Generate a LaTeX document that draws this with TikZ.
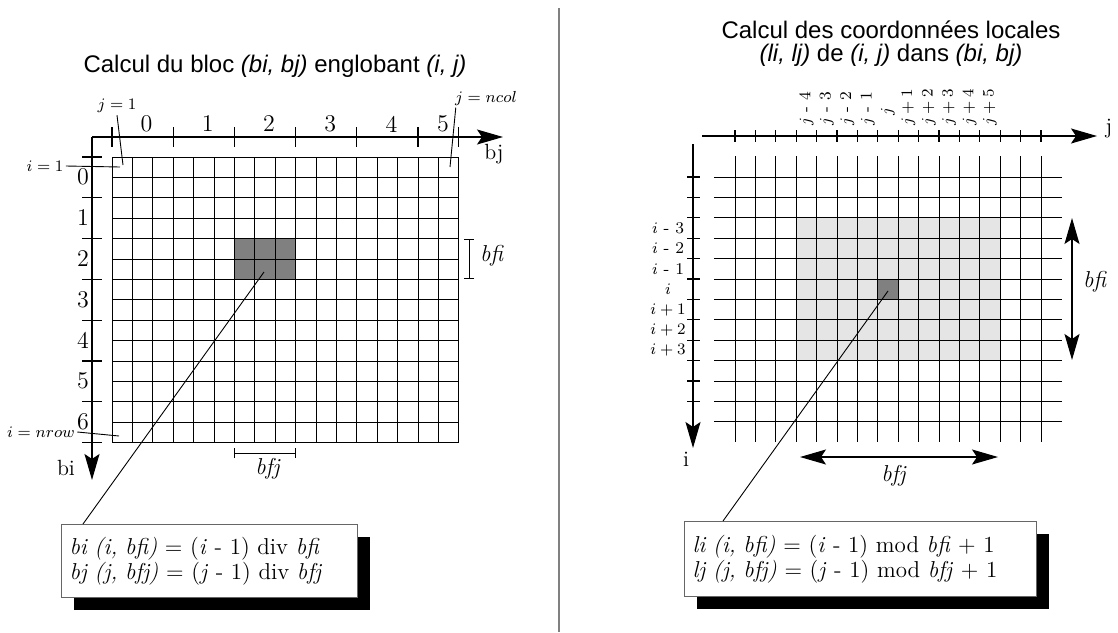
\documentclass[tikz,border=0pt]{standalone}
\usepackage{fontspec}
\newfontfamily\titlefont{Liberation Sans}
\usetikzlibrary{arrows.meta,shadows}

\begin{document}
\begin{tikzpicture}[x=0.5pt, y=-0.5pt, >={Stealth[length=13pt,width=7.5pt,inset=2.5pt]},
	every node/.style={font=\fontsize{12}{14}\selectfont, inner sep=1pt},
	gridline/.style={line width=0.45pt, black},
	axis/.style={line width=0.6pt},
	tick/.style={line width=0.6pt},
	bracket/.style={line width=0.5pt, {Bar[width=5pt]}-{Bar[width=5pt]}},
	leader/.style={line width=0.45pt},
	title/.style={font=\titlefont\fontsize{12}{11.5}\selectfont, align=center},
	axlabel/.style={font=\fontsize{11}{13}\selectfont},
	small/.style={font=\fontsize{8.2}{9.5}\selectfont},
	formula/.style={draw=black!60, fill=white, line width=0.5pt, anchor=north west, align=left,
		inner xsep=4pt, font=\fontsize{11.5}{12.5}\selectfont,
		drop shadow={shadow xshift=6pt, shadow yshift=-6pt, fill=black, opacity=1}}]
	\useasboundingbox (0,0) rectangle (1118,632);
	\draw[black!50, line width=0.8pt] (559,8) -- (559,632);
	\node[title] (titleL) at (275,66) {Calcul du bloc \textit{(bi, bj)} englobant \textit{(i, j)}};
	\node[title] (titleR) at (891,44) {Calcul des coordonnées locales\\ \textit{(li, lj)} de \textit{(i, j)} dans \textit{(bi, bj)}};

	% bloc englobant
	\fill[black!50] (234.4,238.6) rectangle (295.6,279.4);
	\foreach \k in {0,...,17} \draw[gridline] ({112+20.4*\k},157) -- ({112+20.4*\k},442.6);
	\foreach \k in {0,...,14} \draw[gridline] (112,{157+20.4*\k}) -- (458.8,{157+20.4*\k});
	\coordinate (oL) at (92,137);
	\draw[axis,->] (oL) -- (503,137);
	\draw[axis,->] (oL) -- (92,480);
	\node[axlabel] (bjL) at (494,154) {bj};
	\node[axlabel] (biL) at (66,468) {bi};
	\foreach \x in {112,173.2,234.4,295.6,356.8,418,458.8} \draw[tick] (\x,127) -- (\x,147);
	\foreach \n in {0,...,4} \node (colL\n) at ({146.6+61.2*\n},124) {\n};
	\node (colL5) at (443,124) {5};
	\foreach \k in {0,...,7} \draw[tick] (82,{157+40.8*\k}) -- (102,{157+40.8*\k});
	\foreach \n in {0,...,6} \node (rowL\n) at (83,{177+40.8*\n}) {\n};
	\node[small] (jone) at (117,106) {$j = 1$};
	\coordinate (joneEnd) at (123,165);
	\draw[leader] (jone.south) -- (joneEnd);
	\node[small] (ione) at (45,166) {$i = 1$};
	\coordinate (ioneEnd) at (120,167);
	\draw[leader] (ione.east) -- (ioneEnd);
	\node[small] (jncol) at (486,98) {$j = ncol$};
	\coordinate (jncolEnd) at (450,167);
	\draw[leader] ([xshift=1.5pt]jncol.south west) -- (jncolEnd);
	\node[small] (inrow) at (41,432) {$i = nrow$};
	\coordinate (inrowEnd) at (119,436);
	\draw[leader] (inrow.east) -- (inrowEnd);
	\draw[bracket] (234.4,453) -- (295.6,453);
	\node[font=\fontsize{11.5}{13}\selectfont] (bfjL) at (268,469) {\textit{bfj}};
	\draw[bracket] (469,238.6) -- (469,279.4);
	\node[font=\fontsize{11.5}{13}\selectfont] (bfiL) at (492,256) {\textit{bfi}};
	\node[formula, text width=140pt, minimum height=36.5pt] (formL) at (61,524)
		{\textit{bi (i, bfi)} = (\textit{i} - 1) div \textit{bfi}\\ \textit{bj (j, bfj)} = (\textit{j} - 1) div \textit{bfj}};
	\coordinate (blkL) at (264,272);
	\draw[leader] (blkL) -- ([xshift=11pt]formL.north west);

	% coordonnees locales
	\fill[black!10] (796.2,217.8) rectangle (1000.2,360.6);
	\fill[black!50] (877.8,279) rectangle (898.2,299.4);
	\foreach \k in {0,...,15} \draw[gridline] ({735+20.4*\k},156) -- ({735+20.4*\k},442);
	\foreach \k in {0,...,12} \draw[gridline] (714,{177+20.4*\k}) -- (1062,{177+20.4*\k});
	\draw[axis,->] (702,136) -- (1097,136);
	\draw[axis,->] (693,144) -- (693,448);
	\node[axlabel] (jR) at (1109,129) {j};
	\node[axlabel] (iR) at (686,459) {i};
	\foreach \k in {0,...,15} \draw[tick] ({735+20.4*\k},130) -- ({735+20.4*\k},142);
	\foreach \k in {0,...,11} \draw[tick] (687,{177+20.4*\k}) -- (700,{177+20.4*\k});
	\foreach \lab [count=\n from 2] in {{$i$ - 3},{$i$ - 2},{$i$ - 1},{$i$},{$i + 1$},{$i + 2$},{$i + 3$}}
		\node[small] (rowR\n) at (668,{177+20.4*(\n+0.5)}) {\lab};
	\foreach \lab/\yy [count=\n from 3] in {{$j$ - 4}/128,{$j$ - 3}/128,{$j$ - 2}/128,{$j$ - 1}/128,{$j$}/118,
		{$j + 1$}/128,{$j + 2$}/128,{$j + 3$}/128,{$j + 4$}/128,{$j + 5$}/128}
		\node[small, rotate=90, anchor=west] (colR\n) at ({735+20.4*(\n+0.5)},\yy) {\lab};
	\coordinate (bfiTop) at (1072,218);
	\coordinate (bfiBot) at (1072,360);
	\draw[axis,<->] (bfiTop) -- (bfiBot);
	\node[font=\fontsize{11.5}{13}\selectfont] (bfiR) at (1095,282) {\textit{bfi}};
	\coordinate (bfjLeft) at (800,457);
	\coordinate (bfjRight) at (998,457);
	\draw[axis,<->] (bfjLeft) -- (bfjRight);
	\node[font=\fontsize{11.5}{13}\selectfont] (bfjR) at (894,476) {\textit{bfj}};
	\node[formula, text width=168pt, minimum height=37.5pt] (formR) at (684,521)
		{\textit{li (i, bfi)} = (\textit{i} - 1) mod \textit{bfi} + 1\\ \textit{lj (j, bfj)} = (\textit{j} - 1) mod \textit{bfj} + 1};
	\coordinate (blkR) at (888,291);
	\draw[leader] (blkR) -- ([xshift=19.5pt]formR.north west);
\end{tikzpicture}
\end{document}
